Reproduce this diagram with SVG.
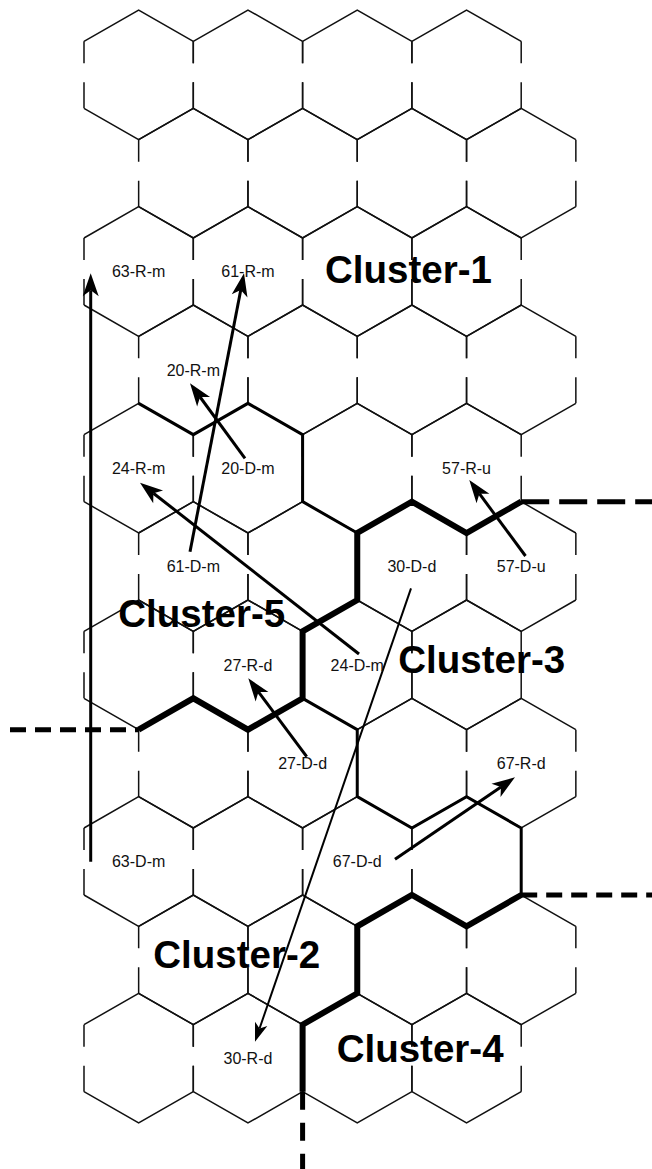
<svg xmlns="http://www.w3.org/2000/svg" width="652" height="1169" viewBox="0 0 652 1169">
  <style>
    .edge{fill:none;stroke:#111;stroke-width:1.5}
    .vert{stroke-dasharray:22 19 40}
    .mid{fill:none;stroke:#000;stroke-width:3}
    .thick{fill:none;stroke:#000;stroke-width:6}
    .dash{fill:none;stroke:#000;stroke-width:5;stroke-dasharray:16 9}
    .dash.long{stroke-dasharray:28 10}
    .dash.down{stroke-dasharray:18 13}
    .arrow{fill:none;stroke:#000;stroke-width:3}
    .arrow.fine{stroke-width:2}
    .lbl{font-family:"Liberation Sans",Arial,sans-serif;font-size:16px;fill:#111;text-anchor:middle}
    .cl{font-family:"Liberation Sans",Arial,sans-serif;font-size:38.5px;font-weight:bold;fill:#000}
  </style>
  <defs>
    <!-- one pointy-top cell, centred on the origin -->
    <g id="hex">
      <path class="edge" d="M-54.65,-33.5 L0,-64.83 L54.65,-33.5 M-54.65,33.5 L0,64.83 L54.65,33.5"/>
      <path class="edge vert" d="M-54.65,-33.5 V33.5 M54.65,-33.5 V33.5"/>
    </g>
    <g id="rowE">
      <use href="#hex" x="138.65"/>
      <use href="#hex" x="247.95"/>
      <use href="#hex" x="357.25"/>
      <use href="#hex" x="466.55"/>
    </g>
    <g id="rowO">
      <use href="#hex" x="193.3"/>
      <use href="#hex" x="302.6"/>
      <use href="#hex" x="411.9"/>
      <use href="#hex" x="521.2"/>
    </g>
    <marker id="ah" markerUnits="userSpaceOnUse" markerWidth="40" markerHeight="40" refX="0" refY="0" orient="auto" overflow="visible">
      <path d="M17,0 L-6,-8 L0,0 L-6,8 Z" fill="#000"/>
    </marker>
    <marker id="ahs" markerUnits="userSpaceOnUse" markerWidth="30" markerHeight="30" refX="0" refY="0" orient="auto" overflow="visible">
      <path d="M14,0 L-5,-6.5 L0,0 L-5,6.5 Z" fill="#000"/>
    </marker>
  </defs>

  <rect width="652" height="1169" fill="#fff"/>

  <!-- cell grid: 11 staggered rows of 4 cells -->
  <g id="grid">
    <use href="#rowE" y="74.83"/>
    <use href="#rowO" y="173.17"/>
    <use href="#rowE" y="271.5"/>
    <use href="#rowO" y="369.83"/>
    <use href="#rowE" y="468.17"/>
    <use href="#rowO" y="566.5"/>
    <use href="#rowE" y="664.83"/>
    <use href="#rowO" y="763.17"/>
    <use href="#rowE" y="861.5"/>
    <use href="#rowO" y="959.83"/>
    <use href="#rowE" y="1058.17"/>
  </g>

  <!-- cluster borders -->
  <g id="borders">
    <path class="mid" d="M138.65,403.33 L193.3,434.67 L247.95,403.33 L302.6,434.67 L302.6,501.67 L357.25,533"/>
    <path class="mid" d="M302.6,698.33 L357.25,729.67 L357.25,796.67 L411.9,828 L466.55,796.67 L521.2,828 L521.2,895"/>
    <path class="thick" d="M521.2,501.67 L466.55,533 L411.9,501.67 L357.25,533 L357.25,600 L302.6,631.33 L302.6,698.33 L247.95,729.67 L193.3,698.33 L138.65,729.67"/>
    <path class="thick" d="M521.2,895 L466.55,926.33 L411.9,895 L357.25,926.33 L357.25,993.33 L302.6,1024.67 L302.6,1091.67"/>
    <path class="dash long" d="M521.2,501.67 H652"/>
    <path class="dash" d="M10,729.67 H138.65"/>
    <path class="dash" d="M521.2,895 H652"/>
    <path class="dash down" d="M302.6,1091.67 V1169"/>
  </g>

  <!-- moves from D cell to R cell -->
  <g id="connectors">
    <path class="arrow" marker-end="url(#ah)" d="M90.7,861.7 L90.7,290.3"/>
    <path class="arrow" marker-end="url(#ah)" d="M190,551.7 L240.76,289.99"/>
    <path class="arrow" marker-end="url(#ah)" d="M245,458.3 L200.05,397"/>
    <path class="arrow" marker-end="url(#ah)" d="M359,654 L153.4,493.2"/>
    <path class="arrow" marker-end="url(#ah)" d="M525.5,556 L479.4,493.7"/>
    <path class="arrow" marker-end="url(#ah)" d="M306.7,756.7 L258.45,691.9"/>
    <path class="arrow fine" marker-end="url(#ahs)" d="M411,588.3 L259.55,1028.5"/>
    <path class="arrow" marker-end="url(#ah)" d="M395,859.3 L500.96,786.9"/>
  </g>

  <g id="labels">
    <text class="lbl" x="138.65" y="277">63-R-m</text>
    <text class="lbl" x="247.95" y="277">61-R-m</text>
    <text class="lbl" x="193.3" y="375.5">20-R-m</text>
    <text class="lbl" x="138.65" y="473.5">24-R-m</text>
    <text class="lbl" x="247.95" y="473.5">20-D-m</text>
    <text class="lbl" x="466.55" y="473.5">57-R-u</text>
    <text class="lbl" x="193.3" y="572">61-D-m</text>
    <text class="lbl" x="411.9" y="572">30-D-d</text>
    <text class="lbl" x="521.2" y="572">57-D-u</text>
    <text class="lbl" x="247.95" y="670.5">27-R-d</text>
    <text class="lbl" x="357.25" y="670.5">24-D-m</text>
    <text class="lbl" x="302.6" y="768.5">27-D-d</text>
    <text class="lbl" x="521.2" y="768.5">67-R-d</text>
    <text class="lbl" x="138.65" y="867">63-D-m</text>
    <text class="lbl" x="357.25" y="867">67-D-d</text>
    <text class="lbl" x="247.95" y="1063.5">30-R-d</text>
  </g>

  <g id="clusters">
    <text class="cl" x="325" y="282.7">Cluster-1</text>
    <text class="cl" x="118.3" y="626.7">Cluster-5</text>
    <text class="cl" x="398.3" y="673.3">Cluster-3</text>
    <text class="cl" x="153.3" y="968.3">Cluster-2</text>
    <text class="cl" x="336.7" y="1061.7">Cluster-4</text>
  </g>
</svg>
